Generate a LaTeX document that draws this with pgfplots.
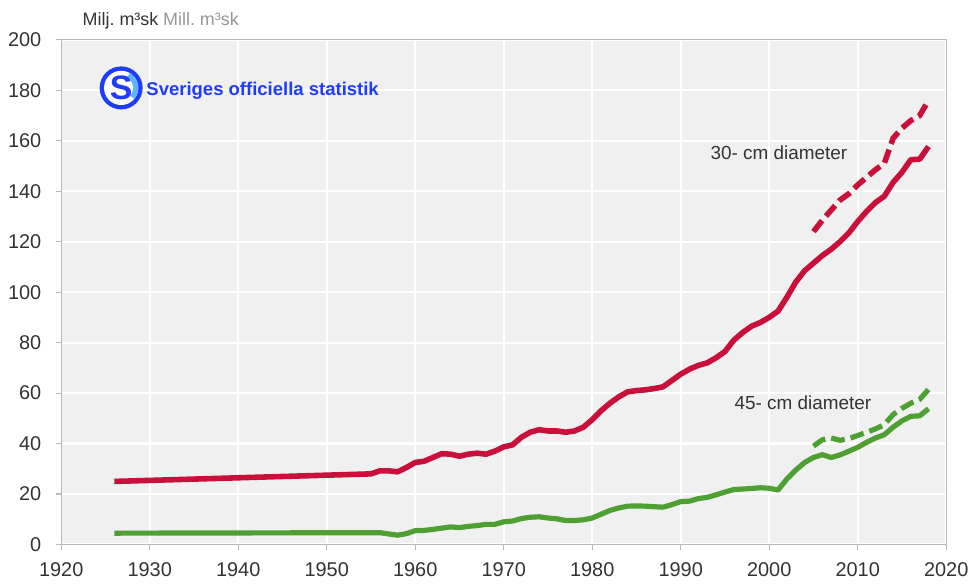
\documentclass[border=0pt]{standalone}
\usepackage{fontspec}
\setmainfont{Liberation Sans}
\usepackage{graphicx}
\usepackage{pgfplots}
\pgfplotsset{compat=1.18}
\definecolor{cred}{RGB}{200,16,58}
\definecolor{cgreen}{RGB}{78,160,50}
\definecolor{bg}{RGB}{240,240,240}
\definecolor{axgray}{RGB}{185,185,185}
\definecolor{txt}{RGB}{51,51,51}
\definecolor{txtlight}{RGB}{150,150,150}
\definecolor{sosblue}{RGB}{30,60,250}
\definecolor{soslight}{RGB}{90,180,255}

\pgfplotstableread{
year val
1926 25
1955 28
1956 29.2
1957 29.2
1958 28.8
1959 30.5
1960 32.5
1961 33
1962 34.5
1963 36
1964 35.8
1965 35
1966 35.8
1967 36.2
1968 35.8
1969 37
1970 38.7
1971 39.5
1972 42.5
1973 44.5
1974 45.5
1975 45
1976 45
1977 44.5
1978 45
1979 46.5
1980 49.5
1981 53
1982 56
1983 58.5
1984 60.5
1985 61
1986 61.3
1987 61.8
1988 62.5
1989 65
1990 67.5
1991 69.5
1992 71
1993 72
1994 74
1995 76.5
1996 81
1997 84
1998 86.5
1999 88
2000 90
2001 92.5
2002 98
2003 104
2004 108.5
2005 111.5
2006 114.5
2007 117
2008 120
2009 123.5
2010 128
2011 132
2012 135.5
2013 138
2014 143.5
2015 147.5
2016 152.5
2017 152.7
2018 157.7
}\redsolid

\pgfplotstableread{
year val
2005 124
2006 128.5
2007 132.5
2008 136.5
2009 139
2010 142.5
2011 145.5
2012 148.5
2013 151
2014 161
2015 165
2016 168
2017 170
2018 176
}\reddash

\pgfplotstableread{
year val
1926 4.5
1956 4.7
1957 4.2
1958 3.7
1959 4.3
1960 5.5
1961 5.6
1962 6
1963 6.5
1964 7
1965 6.7
1966 7.2
1967 7.5
1968 8
1969 8
1970 9
1971 9.3
1972 10.3
1973 10.8
1974 11
1975 10.5
1976 10.2
1977 9.5
1978 9.5
1979 9.8
1980 10.5
1981 12
1982 13.5
1983 14.5
1984 15.2
1985 15.3
1986 15.2
1987 15
1988 14.8
1989 15.8
1990 17
1991 17.2
1992 18.2
1993 18.7
1994 19.7
1995 20.8
1996 21.8
1997 22
1998 22.2
1999 22.5
2000 22.3
2001 21.6
2002 26
2003 29.5
2004 32.5
2005 34.5
2006 35.6
2007 34.5
2008 35.5
2009 37
2010 38.5
2011 40.5
2012 42.2
2013 43.5
2014 46.5
2015 49
2016 50.8
2017 51
2018 53.8
}\greensolid

\pgfplotstableread{
year val
2005 39
2006 41.5
2007 42.2
2008 41.3
2009 42
2010 43.2
2011 44.5
2012 45.8
2013 47.5
2014 51.5
2015 54
2016 56
2017 57.5
2018 61.5
}\greendash

\begin{document}
\frenchspacing
\begin{tikzpicture}
\path (-30.75pt,-15.5pt) rectangle (456.75pt,273.5pt);
\begin{axis}[
  at={(0pt,0pt)}, anchor=south west,
  scale only axis, width=444.5pt, height=253.5pt,
  xmin=1920, xmax=2020, ymin=0, ymax=200,
  xtick={1920,1930,...,2020}, ytick={0,20,...,200},
  axis background/.style={fill=bg},
  grid=major, major grid style={white, line width=1.1pt},
  axis line style={axgray, line width=0.6pt},
  tick style={axgray, line width=0.6pt},
  tick align=outside, major tick length=2.5pt,
  tick pos=left,
  ticklabel style={font=\fontsize{10}{12}\selectfont, text=txt},
  xticklabel style={yshift=-3pt},
  yticklabel style={xshift=-4pt},
  /pgf/number format/assume math mode=true,
  /pgf/number format/1000 sep={},
  clip=false,
]
\addplot[cred, line width=2.8pt, line join=round] table[x=year,y=val] {\redsolid};
\addplot[cred, line width=2.8pt, dash pattern=on 7pt off 3pt] table[x=year,y=val] {\reddash};
\addplot[cgreen, line width=2.6pt, line join=round] table[x=year,y=val] {\greensolid};
\addplot[cgreen, line width=2.6pt, dash pattern=on 7pt off 3pt] table[x=year,y=val] {\greendash};
\node[font=\fontsize{9.5}{11}\selectfont, text=txt] at (axis cs:2001.1,155.4) {30- cm diameter};
\node[font=\fontsize{9.5}{11}\selectfont, text=txt] at (axis cs:2003.8,56) {45- cm diameter};
\end{axis}
\node[anchor=base west, inner sep=0pt, font=\fontsize{9}{11}\selectfont, text=txt] at (10.6pt,260.5pt) {Milj. m³sk};
\node[anchor=base west, inner sep=0pt, font=\fontsize{9}{11}\selectfont, text=txtlight] at (51pt,260.5pt) {Mill. m³sk};
% logo
\coordinate (c) at (30.1pt,229.35pt);
\fill[sosblue] (c) circle (10.8pt);
\fill[white] (c) circle (8.6pt);
\fill[soslight] (c) ++(-40:8.6pt) arc (-40:60:8.6pt) -- (c) -- cycle;
\fill[white] (c) circle (6pt);
\node[text=sosblue, inner sep=0pt, font=\bfseries\fontsize{17}{17}\selectfont] at (c) {S};
\node[anchor=south west, inner sep=0pt, text=sosblue] at (42.6pt,223.5pt) {\resizebox*{116.7pt}{8.7pt}{\bfseries Sveriges officiella statistik}};
\end{tikzpicture}
\end{document}
